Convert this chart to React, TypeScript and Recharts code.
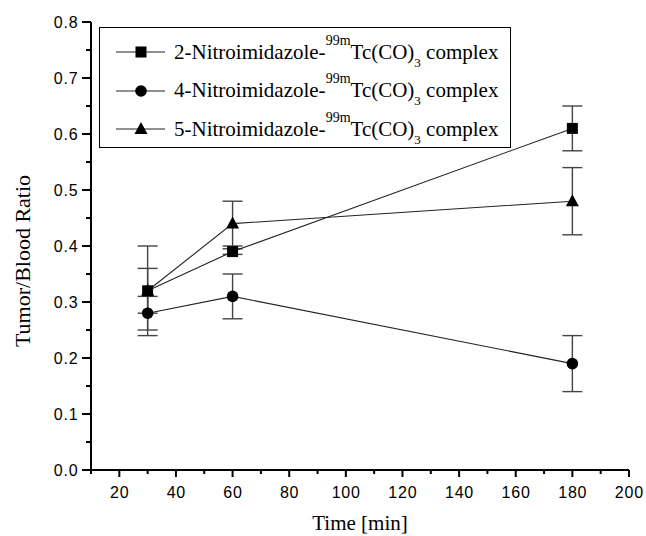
import React from 'react';
import { ComposedChart, Line, XAxis, YAxis, ErrorBar, Legend, Label } from 'recharts';

// Sampling times (min)
const times = [30, 60, 180];

// Tumor/blood ratios with their standard deviations
const ratio2 = [0.32, 0.39, 0.61];
const err2 = [0.04, 0.005, 0.04];
const ratio4 = [0.28, 0.31, 0.19];
const err4 = [0.03, 0.04, 0.05];
const ratio5 = [0.32, 0.44, 0.48];
const err5 = [0.08, 0.04, 0.06];

// Tick positions (majors get labels, the rest are minor ticks)
const xTicks = [10, 20, 30, 40, 50, 60, 70, 80, 90, 100, 110, 120, 130, 140, 150, 160, 170, 180, 190, 200];
const xMajor = [20, 40, 60, 80, 100, 120, 140, 160, 180, 200];
const yTicks = [0, 0.05, 0.1, 0.15, 0.2, 0.25, 0.3, 0.35, 0.4, 0.45, 0.5, 0.55, 0.6, 0.65, 0.7, 0.75, 0.8];
const yMajor = [0, 0.1, 0.2, 0.3, 0.4, 0.5, 0.6, 0.7, 0.8];

const seriesNames = ['2-Nitroimidazole-', '4-Nitroimidazole-', '5-Nitroimidazole-'];

const data = times.map((t, i) => ({
  t,
  r2: ratio2[i],
  e2: err2[i],
  r4: ratio4[i],
  e4: err4[i],
  r5: ratio5[i],
  e5: err5[i],
}));

const SANS = '"Liberation Sans", Arial, Helvetica, sans-serif';
const SERIF = '"Liberation Serif", "Times New Roman", Times, serif';

type Shape = 'square' | 'circle' | 'triangle';

const Marker = ({ cx, cy, shape }: { cx: number; cy: number; shape: Shape }) => {
  if (shape === 'square') {
    return <rect x={cx - 5.5} y={cy - 5.5} width={11} height={11} fill="#000" />;
  }
  if (shape === 'circle') {
    return <circle cx={cx} cy={cy} r={5.8} fill="#000" />;
  }
  return <path d={`M${cx},${cy - 7} L${cx + 6.5},${cy + 5} L${cx - 6.5},${cy + 5} Z`} fill="#000" />;
};

const makeDot = (shape: Shape) => (props: any) => {
  const { cx, cy, index } = props;
  if (cx == null || cy == null) return <g key={`d-${shape}-${index}`} />;
  return (
    <g key={`d-${shape}-${index}`}>
      <Marker cx={cx} cy={cy} shape={shape} />
    </g>
  );
};

const XTick = (props: any) => {
  const { x, y, payload } = props;
  const major = xMajor.includes(payload.value);
  return (
    <g>
      <line x1={x} x2={x} y1={y} y2={y + (major ? 7 : 4)} stroke="#000" strokeWidth={2} />
      {major && (
        <text
          x={x + 0.4}
          y={y + 28}
          textAnchor="middle"
          fontFamily={SANS}
          fontSize={16}
          letterSpacing={0.8}
          fill="#000"
        >
          {payload.value}
        </text>
      )}
    </g>
  );
};

const YTick = (props: any) => {
  const { x, y, payload } = props;
  const major = yMajor.some((m) => Math.abs(m - payload.value) < 1e-6);
  return (
    <g>
      <line x1={x} x2={x - (major ? 9 : 5)} y1={y} y2={y} stroke="#000" strokeWidth={2} />
      {major && (
        <text
          x={x - 12.5}
          y={y}
          dy="0.36em"
          textAnchor="end"
          fontFamily={SANS}
          fontSize={16}
          letterSpacing={0.8}
          fill="#000"
        >
          {payload.value.toFixed(1)}
        </text>
      )}
    </g>
  );
};

const YTitle = (props: any) => {
  const { x, y, height } = props.viewBox;
  const cx = x + 15;
  const cy = y + height / 2 + 15;
  return (
    <text
      x={cx}
      y={cy}
      transform={`rotate(-90 ${cx} ${cy})`}
      textAnchor="middle"
      dy="0.3em"
      fontFamily={SERIF}
      fontSize={22}
      fill="#000"
    >
      Tumor/Blood Ratio
    </text>
  );
};

const XTitle = (props: any) => {
  const { x, y, width, height } = props.viewBox;
  return (
    <text x={x + width / 2} y={y + height} textAnchor="middle" fontFamily={SERIF} fontSize={21} fill="#000">
      Time [min]
    </text>
  );
};

const legendShapes: Shape[] = ['square', 'circle', 'triangle'];

const LegendBox = () => (
  <div
    style={{
      boxSizing: 'border-box',
      width: 412,
      height: 121,
      border: '1px solid #000',
      background: '#fff',
      paddingTop: 5,
      fontFamily: SERIF,
      fontSize: 21,
      color: '#000',
    }}
  >
    {seriesNames.map((name, i) => (
      <div key={name} style={{ display: 'flex', alignItems: 'center', height: 38.5, whiteSpace: 'nowrap' }}>
        <svg width={74} height={20} style={{ flex: 'none' }}>
          <line x1={16} x2={65} y1={10} y2={10} stroke="#222" strokeWidth={1.2} />
          <Marker cx={41} cy={10} shape={legendShapes[i]} />
        </svg>
        <span style={{ lineHeight: 1 }}>
          {name}
          <span style={{ fontSize: 14, position: 'relative', top: -14 }}>99m</span>
          Tc(CO)
          <span style={{ fontSize: 13, position: 'relative', top: 8 }}>3</span> complex
        </span>
      </div>
    ))}
  </div>
);

const pageCss =
  'html { overflow: hidden; } ' +
  'body, #root, .recharts-wrapper, .recharts-surface { overflow: visible !important; }';

export default function App() {
  return (
    <div style={{ width: 638, marginRight: -8 }}>
      <style>{pageCss}</style>
      <ComposedChart
        width={638}
        height={528}
        data={data}
        margin={{ top: 14, right: 17, left: 0, bottom: 6 }}
        style={{ background: '#fff' }}
      >
        <XAxis
          dataKey="t"
          type="number"
          domain={[10, 200]}
          ticks={xTicks}
          interval={0}
          height={60}
          tickSize={0}
          tickMargin={0}
          tickLine={false}
          tick={<XTick />}
          axisLine={{ stroke: '#000', strokeWidth: 2 }}
          allowDataOverflow
        >
          <Label content={<XTitle />} />
        </XAxis>
        <YAxis
          type="number"
          domain={[0, 0.8]}
          ticks={yTicks}
          interval={0}
          width={83}
          tickSize={0}
          tickMargin={0}
          tickLine={false}
          tick={<YTick />}
          axisLine={{ stroke: '#000', strokeWidth: 2 }}
          allowDataOverflow
        >
          <Label content={<YTitle />} />
        </YAxis>
        <Legend
          content={<LegendBox />}
          layout="horizontal"
          verticalAlign="middle"
          align="center"
          wrapperStyle={{ left: 91, top: 19, width: 412, height: 121 }}
        />
        <Line
          type="linear"
          dataKey="r5"
          stroke="#222"
          strokeWidth={1.1}
          dot={makeDot('triangle')}
          activeDot={false}
          isAnimationActive={false}
        >
          <ErrorBar dataKey="e5" width={10} stroke="#444" strokeWidth={1.4} direction="y" />
        </Line>
        <Line
          type="linear"
          dataKey="r4"
          stroke="#222"
          strokeWidth={1.1}
          dot={makeDot('circle')}
          activeDot={false}
          isAnimationActive={false}
        >
          <ErrorBar dataKey="e4" width={10} stroke="#444" strokeWidth={1.4} direction="y" />
        </Line>
        <Line
          type="linear"
          dataKey="r2"
          stroke="#222"
          strokeWidth={1.1}
          dot={makeDot('square')}
          activeDot={false}
          isAnimationActive={false}
        >
          <ErrorBar dataKey="e2" width={10} stroke="#444" strokeWidth={1.4} direction="y" />
        </Line>
      </ComposedChart>
    </div>
  );
}
